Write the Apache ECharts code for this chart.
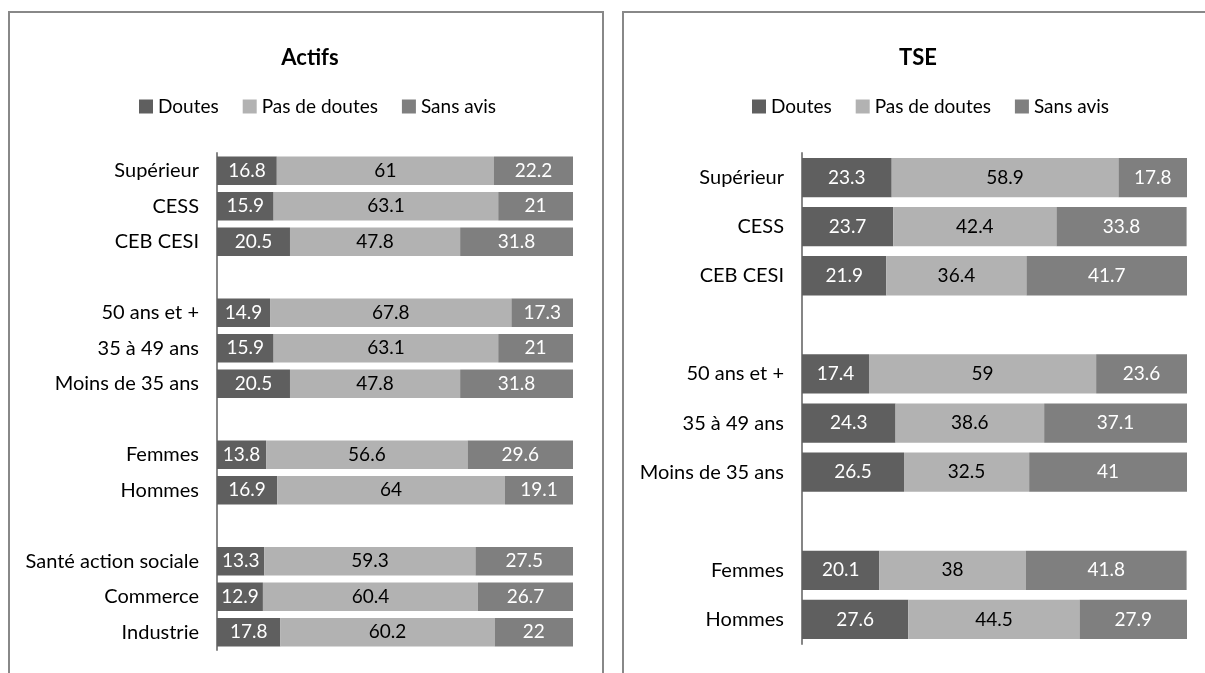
<!DOCTYPE html>
<html>
<head>
<meta charset="utf-8">
<script src="https://cdn.jsdelivr.net/npm/echarts@6/dist/echarts.min.js"></script>
<style>
  html, body { margin: 0; padding: 0; background: #fff; }
  #chart { width: 1205px; height: 673px; }
</style>
</head>
<body>
<div id="chart"></div>
<script>
// séries (Doutes / Pas de doutes / Sans avis)
var seriesNames = ['Doutes', 'Pas de doutes', 'Sans avis'];

// Actifs - les lignes vides séparent les groupes
var actifsCats = ['Supérieur', 'CESS', 'CEB CESI', ' ',
    '50 ans et +', '35 à 49 ans', 'Moins de 35 ans', '  ',
    'Femmes', 'Hommes', '   ',
    'Santé action sociale', 'Commerce', 'Industrie'];
var actifsDoutes = [16.8, 15.9, 20.5, null, 14.9, 15.9, 20.5, null, 13.8, 16.9, null, 13.3, 12.9, 17.8];
var actifsPasDoutes = [61, 63.1, 47.8, null, 67.8, 63.1, 47.8, null, 56.6, 64, null, 59.3, 60.4, 60.2];
var actifsSansAvis = [22.2, 21, 31.8, null, 17.3, 21, 31.8, null, 29.6, 19.1, null, 27.5, 26.7, 22];

// TSE
var tseCats = ['Supérieur', 'CESS', 'CEB CESI', ' ',
    '50 ans et +', '35 à 49 ans', 'Moins de 35 ans', '  ',
    'Femmes', 'Hommes'];
var tseDoutes = [23.3, 23.7, 21.9, null, 17.4, 24.3, 26.5, null, 20.1, 27.6];
var tsePasDoutes = [58.9, 42.4, 36.4, null, 59, 38.6, 32.5, null, 38, 44.5];
var tseSansAvis = [17.8, 33.8, 41.7, null, 23.6, 37.1, 41, null, 41.8, 27.9];

var colors = ['#5f5f5f', '#b2b2b2', '#7f7f7f'];
var labelColors = ['#ffffff', '#000000', '#ffffff'];
var FONT = 'Lato';

function makeSeries(name, idx, data, axisIdx) {
    return {
        name: name,
        type: 'bar',
        stack: 'total' + axisIdx,
        xAxisIndex: axisIdx,
        yAxisIndex: axisIdx,
        barCategoryGap: '20%',
        itemStyle: { color: colors[idx] },
        label: {
            show: true,
            position: 'inside',
            color: labelColors[idx],
            fontFamily: FONT,
            fontSize: 19,
            formatter: function (p) { return p.value == null ? '' : p.value; }
        },
        emphasis: { disabled: true },
        data: data
    };
}

function catAxis(cats, gridIdx) {
    return {
        type: 'category',
        gridIndex: gridIdx,
        inverse: true,
        data: cats,
        axisLine: { show: true, lineStyle: { color: '#868686', width: 2 } },
        axisTick: { show: false },
        axisLabel: { color: '#000', fontFamily: FONT, fontSize: 20, margin: 18 },
        splitLine: { show: false }
    };
}

function valAxis(gridIdx) {
    return { type: 'value', gridIndex: gridIdx, min: 0, max: 100, show: false, splitLine: { show: false } };
}

function legendAt(left) {
    return {
        left: left,
        top: 92,
        data: seriesNames,
        icon: 'rect',
        itemWidth: 14,
        itemHeight: 14,
        itemGap: 24,
        textStyle: { color: '#000', fontFamily: FONT, fontSize: 19 }
    };
}

var myChart = echarts.init(document.getElementById('chart'));
var option = {
    animation: false,
    color: colors,
    title: [
        { text: 'Actifs', left: 305, top: 42, textAlign: 'center',
          textStyle: { fontFamily: FONT, fontSize: 22, fontWeight: 'bold', color: '#000' } },
        { text: 'TSE', left: 913, top: 42, textAlign: 'center',
          textStyle: { fontFamily: FONT, fontSize: 22, fontWeight: 'bold', color: '#000' } }
    ],
    legend: [legendAt(134), legendAt(747)],
    grid: [
        { left: 217, top: 153, width: 356, height: 497 },
        { left: 802, top: 153, width: 385, height: 491 }
    ],
    xAxis: [valAxis(0), valAxis(1)],
    yAxis: [catAxis(actifsCats, 0), catAxis(tseCats, 1)],
    graphic: [
        { type: 'rect', silent: true, shape: { x: 9, y: 12, width: 594, height: 680 },
          style: { fill: 'none', stroke: '#888888', lineWidth: 2 } },
        { type: 'rect', silent: true, shape: { x: 623, y: 12, width: 600, height: 680 },
          style: { fill: 'none', stroke: '#888888', lineWidth: 2 } }
    ],
    series: [
        makeSeries(seriesNames[0], 0, actifsDoutes, 0),
        makeSeries(seriesNames[1], 1, actifsPasDoutes, 0),
        makeSeries(seriesNames[2], 2, actifsSansAvis, 0),
        makeSeries(seriesNames[0], 0, tseDoutes, 1),
        makeSeries(seriesNames[1], 1, tsePasDoutes, 1),
        makeSeries(seriesNames[2], 2, tseSansAvis, 1)
    ]
};
myChart.setOption(option, true);

window.onresize = function () {
    myChart.resize();
};
</script>
</body>
</html>
